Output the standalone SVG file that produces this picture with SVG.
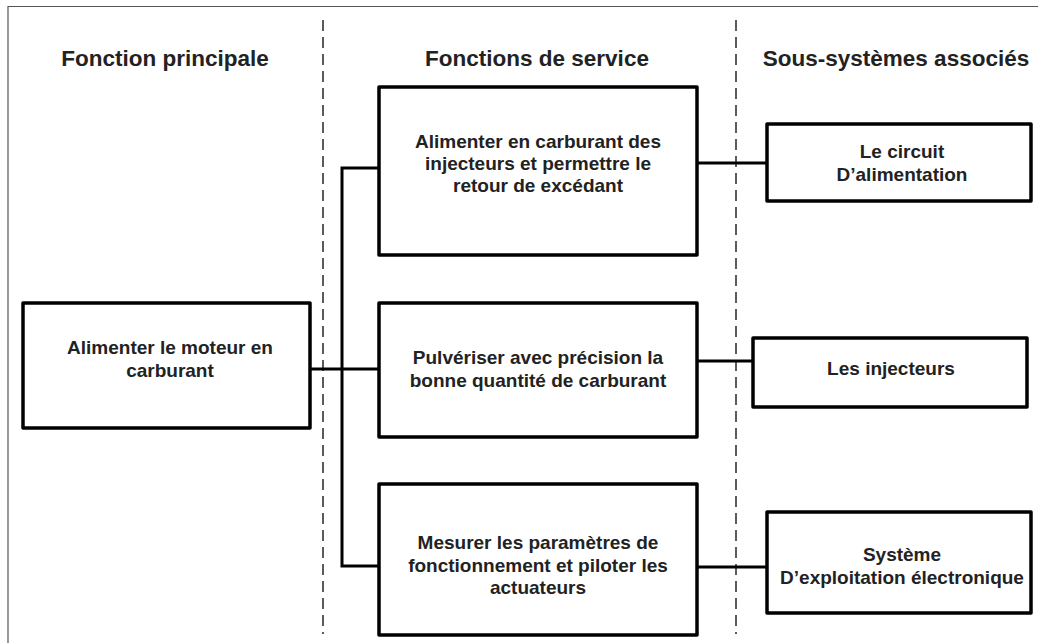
<svg xmlns="http://www.w3.org/2000/svg" width="1038" height="643" viewBox="0 0 1038 643">
  <style>
    .frame { fill: none; stroke: #555; stroke-width: 1.2; }
    .sep { fill: none; stroke: #333; stroke-width: 1.6; stroke-dasharray: 11 6; }
    .box { fill: #fff; stroke: #000; stroke-width: 3.5; stroke-linejoin: round; }
    .conn { fill: none; stroke: #000; stroke-width: 3; }
    .head { font-family: "Liberation Sans", Arial, sans-serif; font-weight: bold; font-size: 22.5px; fill: #222; text-anchor: middle; }
    .lbl { font-family: "Liberation Sans", Arial, sans-serif; font-weight: bold; font-size: 19px; fill: #222; text-anchor: middle; }
  </style>
  <rect x="0" y="0" width="1038" height="643" fill="#fff"/>
  <path class="frame" d="M8,643 V6.5 H1038"/>
  <line class="sep" x1="323" y1="20" x2="323" y2="634"/>
  <line class="sep" x1="736" y1="20" x2="736" y2="634"/>

  <g id="headings">
    <text class="head" x="165" y="66">Fonction principale</text>
    <text class="head" x="537" y="66">Fonctions de service</text>
    <text class="head" x="896" y="66">Sous-systèmes associés</text>
  </g>

  <g id="connectors">
    <line class="conn" x1="310" y1="369" x2="379" y2="369"/>
    <path class="conn" d="M379,168 H342 V566 H379"/>
    <line class="conn" x1="697" y1="163" x2="767" y2="163"/>
    <line class="conn" x1="697" y1="361" x2="753" y2="361"/>
    <line class="conn" x1="697" y1="567" x2="767" y2="567"/>
  </g>

  <g id="main">
    <rect class="box" x="23" y="303" width="287" height="125"/>
    <text class="lbl" x="170" y="354">Alimenter le moteur en</text>
    <text class="lbl" x="170" y="377">carburant</text>
  </g>

  <g id="service1">
    <rect class="box" x="379" y="87" width="318" height="168"/>
    <text class="lbl" x="538" y="148">Alimenter en carburant des</text>
    <text class="lbl" x="538" y="170">injecteurs et permettre le</text>
    <text class="lbl" x="538" y="192">retour de excédant</text>
  </g>

  <g id="service2">
    <rect class="box" x="379" y="303" width="318" height="134"/>
    <text class="lbl" x="538" y="364">Pulvériser avec précision la</text>
    <text class="lbl" x="538" y="387">bonne quantité de carburant</text>
  </g>

  <g id="service3">
    <rect class="box" x="379" y="484" width="318" height="151"/>
    <text class="lbl" x="538" y="549">Mesurer les paramètres de</text>
    <text class="lbl" x="538" y="572">fonctionnement et piloter les</text>
    <text class="lbl" x="538" y="594">actuateurs</text>
  </g>

  <g id="sub1">
    <rect class="box" x="767" y="124" width="264" height="77"/>
    <text class="lbl" x="902" y="158">Le circuit</text>
    <text class="lbl" x="902" y="181">D’alimentation</text>
  </g>

  <g id="sub2">
    <rect class="box" x="753" y="338" width="274" height="69"/>
    <text class="lbl" x="891" y="375">Les injecteurs</text>
  </g>

  <g id="sub3">
    <rect class="box" x="767" y="512" width="264" height="101"/>
    <text class="lbl" x="902" y="561">Système</text>
    <text class="lbl" x="902" y="584">D’exploitation électronique</text>
  </g>
</svg>
